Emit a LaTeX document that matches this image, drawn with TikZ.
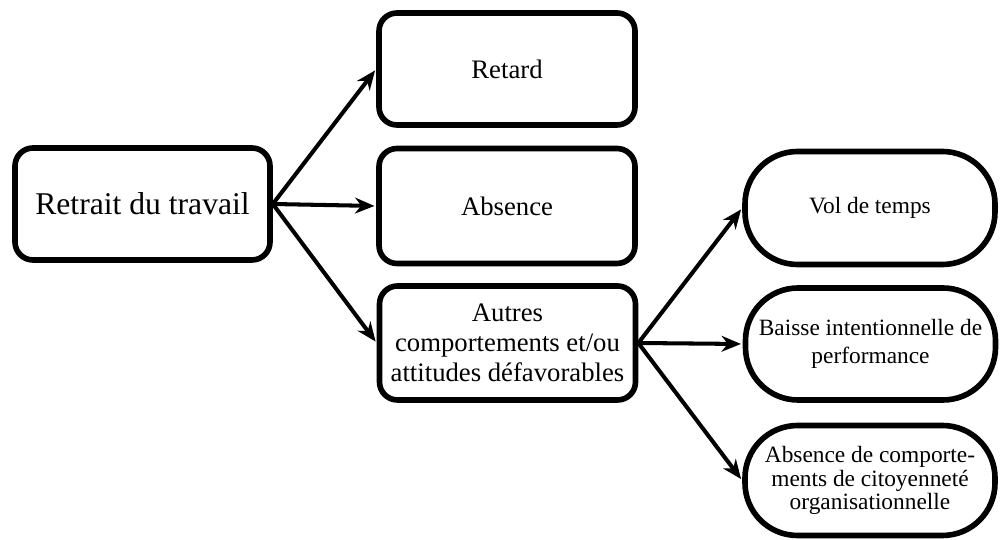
\documentclass[tikz,border=0pt]{standalone}
\usepackage{fontspec}
\setmainfont{Liberation Serif}
\usetikzlibrary{arrows.meta}

\tikzset{
  boite/.style={draw, line width=3.2pt, rounded corners=0.36cm, align=center,
    minimum width=5.12cm, minimum height=2.24cm, inner sep=2pt,
    font=\fontsize{15.2}{17}\selectfont},
  ovale/.style={draw, line width=3.2pt, rounded corners=1.05cm, align=center,
    minimum width=5.0cm, minimum height=2.26cm, inner sep=2pt,
    font=\fontsize{13.3}{16}\selectfont},
  fleche/.style={line width=2.3pt, -{Stealth[length=11pt, width=9pt, inset=3.5pt]}, shorten >=1pt}
}

\begin{document}
\begin{tikzpicture}
        \useasboundingbox (0, 0) rectangle (20, 10.8);
        \node[boite, minimum width=5.1cm, font=\fontsize{18}{21}\selectfont] (retrait) at (2.85, 6.72) {Retrait du travail};
        \node[boite] (retard) at (10.14, 9.42) {Retard};
        \node[boite, minimum height=2.3cm] (absence) at (10.14, 6.68) {Absence};
        \node[boite, minimum height=2.28cm] (autres) at (10.15, 3.94) {Autres\\comportements et/ou\\attitudes défavorables};
        \node[ovale] (vol) at (17.4, 6.64) {Vol de temps};
        \node[ovale, minimum height=2.24cm] (baisse) at (17.41, 3.92) {Baisse intentionnelle de\\performance};
        \node[ovale, minimum height=2.2cm, font=\fontsize{13.3}{13.6}\selectfont] (citoyen) at (17.4, 1.19) {Absence de comporte-\\ments de citoyenneté\\organisationnelle};
        \draw[fleche] (retrait.east) -- (retard.west);
        \draw[fleche] (retrait.east) -- (absence.west);
        \draw[fleche] (retrait.east) -- (autres.west);
        \draw[fleche] (autres.east) -- (vol.west);
        \draw[fleche] (autres.east) -- (baisse.west);
        \draw[fleche] (autres.east) -- (citoyen.west);
\end{tikzpicture}
\end{document}
